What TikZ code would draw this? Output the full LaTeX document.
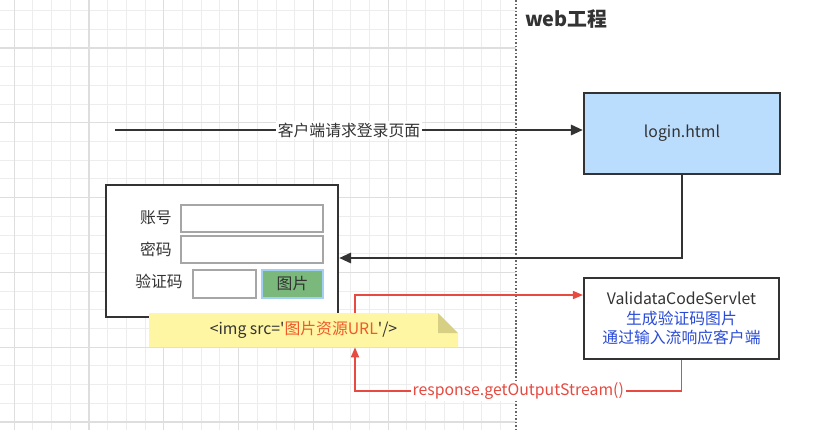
\documentclass[tikz,border=0pt]{standalone}
\usepackage{fontspec}
\setmainfont{Noto Sans CJK SC}[Ligatures=TeXOff]
\usepackage{tikz}
\usetikzlibrary{arrows.meta}

\definecolor{inkgray}{HTML}{333333}
\definecolor{gridminor}{HTML}{EDEDED}
\definecolor{gridmajor}{HTML}{DEDEDE}
\definecolor{loginblue}{HTML}{BADDFE}
\definecolor{btngreen}{HTML}{7BB87C}
\definecolor{btnedge}{HTML}{A3D0F2}
\definecolor{noteyellow}{HTML}{FFF6A3}
\definecolor{notefold}{HTML}{D7CF84}
\definecolor{urlorange}{HTML}{EE5A2A}
\definecolor{servletblue}{HTML}{2A4BD7}
\definecolor{flowred}{HTML}{E64A40}
\definecolor{fieldgray}{HTML}{A6A6A6}

\begin{document}
\begin{tikzpicture}[x=0.02cm, y=-0.02cm,
    font=\fontsize{9}{11.3}\selectfont, text=inkgray,
    darkbox/.style={draw=inkgray, line width=1.2pt, inner sep=0pt},
    field/.style={draw=fieldgray, line width=0.6pt, fill=white, inner sep=0pt},
    darkflow/.style={draw=inkgray, line width=1.6pt, -{Triangle[length=0.24cm, width=0.2cm]}},
    redflow/.style={draw=flowred, line width=0.9pt, -{Triangle[length=0.2cm, width=0.16cm]}}]

        \useasboundingbox (0,0) rectangle (833,430);
        \fill[white] (0,0) rectangle (833,430);

        % grid on the client side
        \foreach \i in {0,...,26}
          \draw[gridminor, line width=0.5pt] (14.2+18.7*\i,0) -- (14.2+18.7*\i,430);
        \foreach \i in {0,...,22}
          \draw[gridminor, line width=0.5pt] (0,10.6+18.7*\i) -- (516,10.6+18.7*\i);
        \foreach \i in {0,...,5}
          \draw[gridmajor, line width=0.6pt] (14.2+74.8*\i,0) -- (14.2+74.8*\i,430);
        \foreach \i in {0,...,5}
          \draw[gridmajor, line width=0.6pt] (0,48+74.8*\i) -- (516,48+74.8*\i);

        \draw[gray!80!black, line width=0.6pt, dash pattern=on 1pt off 1pt] (516,0) -- (516,430);
        \node[anchor=west, font=\fontsize{11.3}{13}\selectfont\bfseries] (web) at (519,19) {web工程};

        \node[darkbox, fill=loginblue, minimum width=3.92cm, minimum height=1.62cm] (login) at (682,133.5) {login.html};
        \node[darkbox, fill=white, minimum width=3.9cm, minimum height=1.62cm, align=center] (servlet) at (681.5,318.5)
          {ValidataCodeServlet\\\textcolor{servletblue}{生成验证码图片}\\\textcolor{servletblue}{通过输入流响应客户端}};

        \node[darkbox, fill=white, minimum width=4.64cm, minimum height=2.64cm] (form) at (222,251) {};
        \node[field, minimum width=2.84cm, minimum height=0.54cm] (account) at (252,218.5) {};
        \node[field, minimum width=2.84cm, minimum height=0.54cm] (password) at (252,249.5) {};
        \node[field, minimum width=1.26cm, minimum height=0.56cm] (code) at (224.5,284) {};
        \node[field, fill=btngreen, draw=btnedge, minimum width=1.22cm, minimum height=0.56cm] (picture) at (292.5,284) {图片};
        \node[anchor=east] (accountlbl) at (178,218) {账号};
        \node[anchor=east] (passwordlbl) at (178,249) {密码};
        \node (codelbl) at (159,281) {验证码};

        \fill[noteyellow] (149,313) -- (438,313) -- (458,333) -- (458,347) -- (149,347) -- cycle;
        \fill[notefold] (438,313) -- (438,333) -- (458,333) -- cycle;
        \node[inner sep=0pt, minimum width=6.18cm, minimum height=0.68cm] (note) at (303.5,330)
          {<img src='\textcolor{urlorange}{图片资源URL}'/>};

        \coordinate (client) at (115,130);
        \draw[darkflow] (client) -- (client -| login.west)
          node[midway, fill=white, inner sep=1pt] (request) {客户端请求登录页面};
        \draw[darkflow] (login.south) |- ([yshift=-0.14cm]form.east);

        \draw[redflow] ([xshift=1.03cm]note.north) |- ([yshift=0.47cm]servlet.west);
        \draw[redflow] (servlet.south) -- ++(0,-0.62cm) -| ([xshift=1.03cm]note.south)
          node[pos=0.25, fill=white, inner sep=1pt, text=flowred] (stream) {response.getOutputStream()};
      \end{tikzpicture}
\end{document}
